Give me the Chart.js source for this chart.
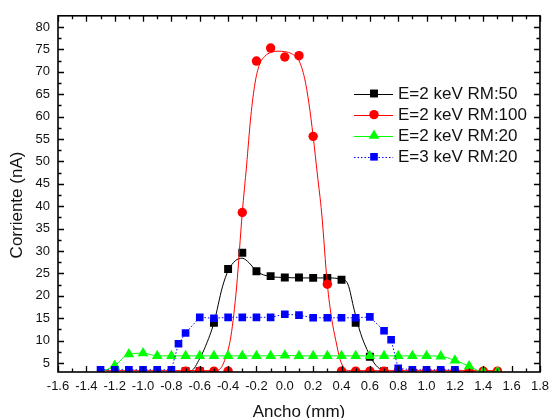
<!DOCTYPE html>
<html><head><meta charset="utf-8">
<script src="https://cdn.jsdelivr.net/npm/chart.js@4/dist/chart.umd.min.js"></script>
<style>html,body{margin:0;padding:0;background:#fff}</style>
</head><body>
<canvas id="c" width="556" height="418"></canvas>
<script>
// ---- data ----
const seriesNames = ['E=2 keV RM:50', 'E=2 keV RM:100', 'E=2 keV RM:20', 'E=3 keV RM:20'];
const xTitle = 'Ancho (mm)';
const yTitle = 'Corriente (nA)';
const xTickValues = [-1.6,-1.4,-1.2,-1.0,-0.8,-0.6,-0.4,-0.2,0.0,0.2,0.4,0.6,0.8,1.0,1.2,1.4,1.6,1.8];
const yTickValues = [5,10,15,20,25,30,35,40,45,50,55,60,65,70,75,80];

const blackX = [-0.7,-0.6,-0.5,-0.4,-0.3,-0.2,-0.1,0.0,0.1,0.2,0.3,0.4,0.5,0.6,0.7];
const blackY = [3.2,3.2,14.0,26.0,29.6,25.5,24.4,24.1,24.1,24.0,24.0,23.6,14.0,6.4,3.2];
const blackFitX = [-0.72,-0.66,-0.6,-0.56,-0.5,-0.44,-0.4,-0.35,-0.3,-0.25,-0.2,-0.1,0.0,0.1,0.2,0.3,0.4,0.445,0.49,0.535,0.58,0.63,0.68,0.72];
const blackFitY = [3.2,3.3,6.0,8.7,14.0,22.0,25.6,27.8,28.4,27.3,25.5,24.3,24.1,24.0,24.0,24.0,23.7,22.6,16.8,11.6,8.0,5.0,3.5,3.2];

const redX = [-0.7,-0.6,-0.5,-0.4,-0.3,-0.2,-0.1,0.0,0.1,0.2,0.3,0.4,0.5,0.6,0.7,0.8,0.9,1.0,1.1,1.2,1.3,1.4,1.5];
const redY = [3.2,3.2,3.2,3.2,38.6,72.4,75.3,73.3,73.6,55.6,22.6,3.2,3.2,3.2,3.2,3.2,3.2,3.2,3.2,3.2,3.2,3.2,3.2];
const redFitX = [-1.3,-0.5,-0.46,-0.42,-0.38,-0.34,-0.3,-0.27,-0.24,-0.21,-0.18,-0.14,-0.1,-0.05,0.0,0.05,0.1,0.14,0.17,0.2,0.23,0.26,0.3,0.33,0.36,0.39,0.42,0.46,1.5];
const redFitY = [3.3,3.3,3.6,6.0,11.0,22.0,38.6,49.0,60.0,67.5,71.5,73.5,74.3,74.6,74.5,74.0,72.5,68.5,63.0,55.6,47.0,38.5,22.6,15.0,10.0,5.8,3.8,3.3,3.3];

const greenX = [-1.3,-1.2,-1.1,-1.0,-0.9,-0.8,-0.7,-0.6,-0.5,-0.4,-0.3,-0.2,-0.1,0.0,0.1,0.2,0.3,0.4,0.5,0.6,0.7,0.8,0.9,1.0,1.1,1.2,1.3,1.4,1.5];
const greenY = [3.0,4.4,7.0,7.2,6.6,6.6,6.6,6.6,6.6,6.6,6.6,6.6,6.6,6.7,6.6,6.6,6.6,6.6,6.6,6.6,6.6,6.6,6.6,6.6,6.5,5.6,4.3,3.0,3.0];

const blueX = [-1.3,-1.2,-1.1,-1.0,-0.9,-0.8,-0.75,-0.7,-0.6,-0.5,-0.4,-0.3,-0.2,-0.1,0.0,0.1,0.2,0.3,0.4,0.5,0.6,0.7,0.75,0.8,0.9,1.0,1.1,1.2];
const blueY = [3.5,3.5,3.5,3.5,3.5,3.5,9.3,11.7,15.2,15.0,15.2,15.2,15.2,15.2,15.9,15.7,15.1,15.1,15.1,15.1,15.3,12.2,10.2,3.8,3.5,3.5,3.5,3.5];

// ---- build ----
const FONT = "'Liberation Sans', Arial, Helvetica, sans-serif";
const pts = (xs, ys) => xs.map((v, i) => ({x: v, y: ys[i]}));

const legendItems = [
  {color: '#000000', style: 'rect', radius: 5.6, dash: []},
  {color: '#ff0000', style: 'circle', radius: 4.7, dash: []},
  {color: '#00ff00', style: 'triangle', radius: 6.2, dash: []},
  {color: '#0000ff', style: 'rect', radius: 5.4, dash: [1.5, 2]}
];

const datasets = [
  {label: seriesNames[0] + ' fit', data: pts(blackFitX, blackFitY), borderColor: '#000', borderWidth: 1, pointRadius: 0, cubicInterpolationMode: 'monotone', order: 7, clip: 0},
  {label: seriesNames[0], data: pts(blackX, blackY), showLine: false, pointStyle: 'rect', pointRadius: 5.6, pointBackgroundColor: '#000', pointBorderWidth: 0, order: 6, clip: 0},
  {label: seriesNames[1] + ' fit', data: pts(redFitX, redFitY), borderColor: '#ff0000', borderWidth: 1, pointRadius: 0, cubicInterpolationMode: 'monotone', order: 5, clip: 0},
  {label: seriesNames[1], data: pts(redX, redY), showLine: false, pointStyle: 'circle', pointRadius: 4.7, pointBackgroundColor: '#ff0000', pointBorderWidth: 0, order: 4, clip: 0},
  {label: seriesNames[2], data: pts(greenX, greenY), borderColor: '#00ff00', borderWidth: 1, cubicInterpolationMode: 'monotone', pointStyle: 'triangle', pointRadius: 6.2, pointBackgroundColor: '#00ff00', pointBorderWidth: 0, order: 2, clip: 0},
  {label: seriesNames[3], data: pts(blueX, blueY), borderColor: '#0000ff', borderWidth: 1, borderDash: [1.5, 2], tension: 0, pointStyle: 'rect', pointRadius: 5.4, pointBackgroundColor: '#0000ff', pointBorderWidth: 0, order: 0, clip: 0}
];

const decor = {
  id: 'decor',
  afterDraw(chart) {
    const {ctx, chartArea: a, scales: {x, y}} = chart;
    ctx.save();
    ctx.strokeStyle = '#000';
    ctx.lineWidth = 1.3;
    ctx.beginPath();
    const xs = [];
    for (let i = 0; i < xTickValues.length; i++) {
      xs.push([xTickValues[i], 6]);
      if (i < xTickValues.length - 1) xs.push([(xTickValues[i] + xTickValues[i + 1]) / 2, 3.5]);
    }
    xs.forEach(([v, L]) => {
      const p = Math.round(x.getPixelForValue(v)) + 0.5;
      ctx.moveTo(p, a.bottom); ctx.lineTo(p, a.bottom - L);
      ctx.moveTo(p, a.top); ctx.lineTo(p, a.top + L);
    });
    const ys = [];
    for (let i = 0; i < yTickValues.length; i++) {
      ys.push([yTickValues[i], 6]);
      if (i < yTickValues.length - 1) ys.push([(yTickValues[i] + yTickValues[i + 1]) / 2, 3.5]);
    }
    ys.forEach(([v, L]) => {
      const p = Math.round(y.getPixelForValue(v)) + 0.5;
      ctx.moveTo(a.left, p); ctx.lineTo(a.left + L, p);
      ctx.moveTo(a.right, p); ctx.lineTo(a.right - L, p);
    });
    ctx.stroke();
    ctx.lineWidth = 1.6;
    ctx.strokeRect(a.left, a.top, a.right - a.left, a.bottom - a.top);
    ctx.fillStyle = '#111';
    ctx.font = '17px ' + FONT;
    ctx.textAlign = 'center';
    ctx.textBaseline = 'middle';
    ctx.save();
    ctx.translate(17, 205);
    ctx.rotate(-Math.PI / 2);
    ctx.fillText(yTitle, 0, 0);
    ctx.restore();
    ctx.textAlign = 'left';
    ctx.font = '17px ' + FONT;
    legendItems.forEach((it, i) => {
      const ly = 93.5 + i * 21.1;
      ctx.save();
      ctx.strokeStyle = it.color;
      ctx.lineWidth = 1;
      ctx.setLineDash(it.dash);
      ctx.beginPath();
      ctx.moveTo(354, Math.round(ly) + 0.5); ctx.lineTo(393, Math.round(ly) + 0.5);
      ctx.stroke();
      ctx.setLineDash([]);
      ctx.fillStyle = it.color;
      Chart.helpers.drawPoint(ctx, {pointStyle: it.style, radius: it.radius, rotation: 0, borderWidth: 0}, 374, ly);
      ctx.restore();
      ctx.fillStyle = '#111';
      ctx.fillText(seriesNames[i], 398, ly + 1);
    });
    ctx.restore();
  }
};

new Chart(document.getElementById('c'), {
  type: 'line',
  data: {datasets},
  options: {
    responsive: false,
    devicePixelRatio: 1,
    animation: false,
    events: [],
    layout: {padding: {top: 14, right: 13, left: 0, bottom: 0}},
    plugins: {legend: {display: false}, tooltip: {enabled: false}},
    scales: {
      x: {
        type: 'linear', min: -1.6, max: 1.8,
        grid: {display: false, drawTicks: false},
        border: {display: false},
        ticks: {
          stepSize: 0.2, autoSkip: false, maxRotation: 0, minRotation: 0, padding: 7,
          color: '#111', font: {size: 13, family: FONT},
          callback: v => { const s = (Math.round(v * 10) / 10).toFixed(1); return s === '-0.0' ? '0.0' : s; }
        },
        title: {display: true, text: xTitle, color: '#111', font: {size: 17, family: FONT}, padding: {top: 0, bottom: -5}},
        afterFit: s => { s.height = 46; }
      },
      y: {
        type: 'linear', min: 3, max: 82.5,
        grid: {display: false, drawTicks: false},
        border: {display: false},
        ticks: {stepSize: 5, includeBounds: false, padding: 8, color: '#111', font: {size: 13, family: FONT}},
        title: {display: false},
        afterFit: s => { s.width = 58; }
      }
    }
  },
  plugins: [decor]
});
</script>
</body></html>
